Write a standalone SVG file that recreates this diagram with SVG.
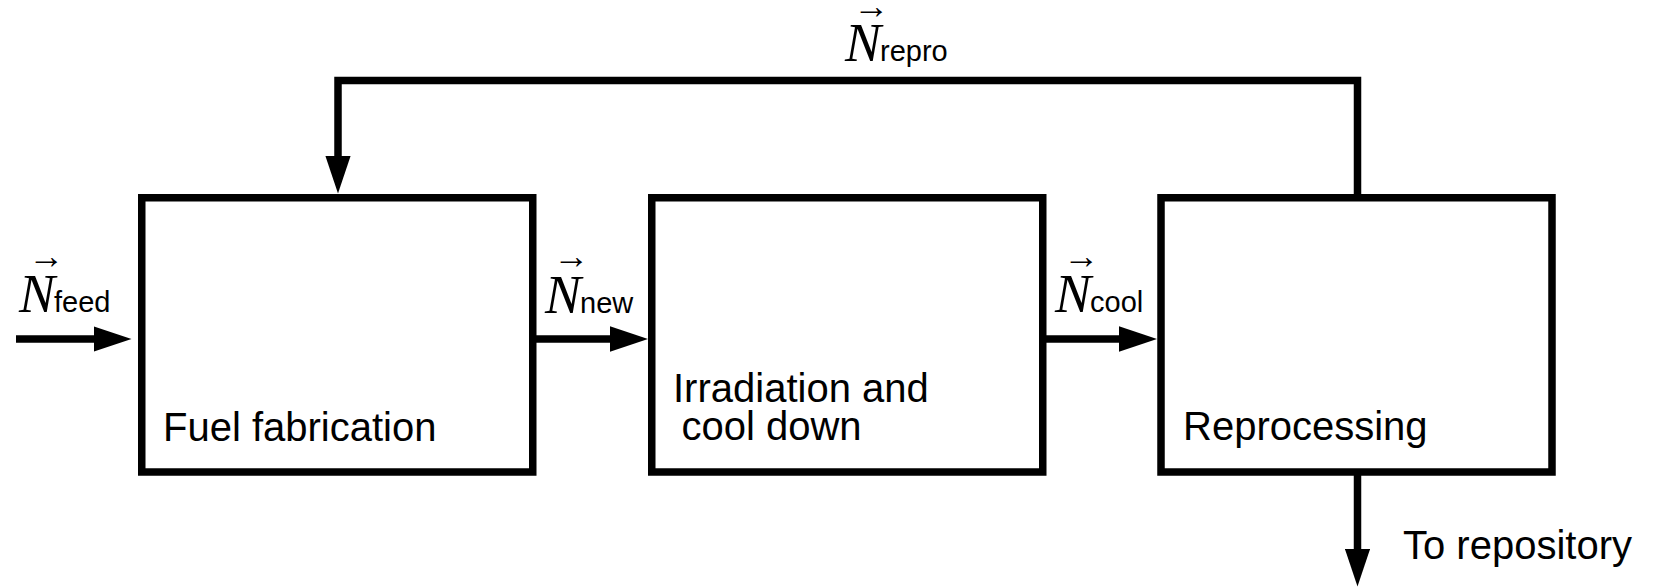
<svg xmlns="http://www.w3.org/2000/svg" width="1654" height="588" viewBox="0 0 1654 588">
<style>
.box{fill:#fff;stroke:#000;stroke-width:7.5}
.lbl{font-family:"Liberation Sans",Arial,sans-serif;font-size:40px;fill:#000}
.sub{font-family:"Liberation Sans",Arial,sans-serif;font-size:29px;fill:#000}
.vn{font-family:"Liberation Serif","Times New Roman",serif;font-style:italic;font-size:54px;fill:#000}
.vec{font-family:"Liberation Serif","DejaVu Serif",serif;font-size:36px;fill:#000;text-anchor:middle}
.conn{fill:none;stroke:#000;stroke-width:7.5;stroke-linejoin:miter;stroke-linecap:butt;marker-end:url(#ah)}
</style>
<defs>
<marker id="ah" viewBox="0 0 38 25.5" refX="0.5" refY="12.75" markerWidth="38" markerHeight="25.5" markerUnits="userSpaceOnUse" orient="auto">
<path d="M0,0 L38,12.75 L0,25.5 z" fill="#000"/>
</marker>
</defs>
<rect width="1654" height="588" fill="#fff"/>
<g id="connectors">
<line class="conn" x1="16" y1="339" x2="94" y2="339"/>
<line class="conn" x1="533" y1="339" x2="610.5" y2="339"/>
<line class="conn" x1="1043" y1="339" x2="1119.5" y2="339"/>
<polyline class="conn" points="1357.5,197.75 1357.5,80.5 338,80.5 338,156"/>
<line class="conn" x1="1357.5" y1="472" x2="1357.5" y2="549"/>
</g>
<g id="node-fuel-fabrication">
<rect class="box" x="141.75" y="197.75" width="391" height="274.25"/>
<text class="lbl" x="163" y="441">Fuel fabrication</text>
</g>
<g id="node-irradiation">
<rect class="box" x="651.75" y="197.75" width="391" height="274.25"/>
<text class="lbl" x="673" y="402">Irradiation and</text>
<text class="lbl" x="681.5" y="440">cool down</text>
</g>
<g id="node-reprocessing">
<rect class="box" x="1161" y="197.75" width="391" height="274.25"/>
<text class="lbl" x="1183" y="440">Reprocessing</text>
</g>
<g id="label-feed">
<text class="vn" x="19" y="312">N</text>
<text class="vec" x="46.5" y="268">→</text>
<text class="sub" x="54" y="312">feed</text>
</g>
<g id="label-new">
<text class="vn" x="545" y="312.5">N</text>
<text class="vec" x="571.5" y="268">→</text>
<text class="sub" x="580" y="312.5">new</text>
</g>
<g id="label-cool">
<text class="vn" x="1055" y="311.5">N</text>
<text class="vec" x="1081.5" y="268">→</text>
<text class="sub" x="1090" y="311.5">cool</text>
</g>
<g id="label-repro">
<text class="vn" x="845" y="60.5">N</text>
<text class="vec" x="871.5" y="18">→</text>
<text class="sub" x="880" y="60.5">repro</text>
</g>
<text class="lbl" x="1403" y="558.5">To repository</text>
</svg>
